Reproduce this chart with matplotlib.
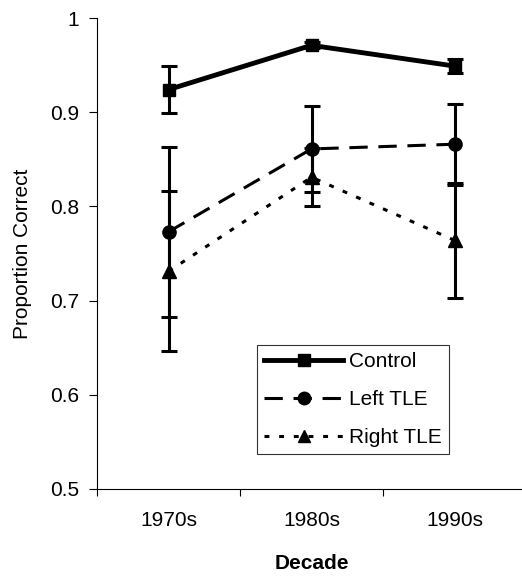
import numpy as np
import matplotlib.pyplot as plt
from matplotlib.lines import Line2D

plt.rcParams['font.family'] = ['Liberation Sans', 'DejaVu Sans']

decades = ['1970s', '1980s', '1990s']
control = [0.924, 0.971, 0.949]
control_err = [0.025, 0.003, 0.007]
left_tle = [0.773, 0.861, 0.866]
left_err = [0.090, 0.046, 0.043]
right_tle = [0.731, 0.831, 0.764]
right_err = [0.085, 0.031, 0.061]

x = np.arange(1, len(decades) + 1)

fig = plt.figure(figsize=(5.22, 5.76), dpi=100)
ax = fig.add_axes([97 / 522, 1 - 489 / 576, (526 - 97) / 522, 471 / 576])

# error bars drawn with the lines
ebkw = dict(ecolor='black', elinewidth=2.2, capsize=6, capthick=2.2)
dash_left = (0, (6, 3.5))
dot_right = (0, (1.6, 3.2))
ax.errorbar(x, control, yerr=control_err, color='black', lw=3.5, marker='s',
            ms=8.5, **ebkw)
ax.errorbar(x, left_tle, yerr=left_err, color='black', lw=2.2, ls=dash_left,
            marker='o', ms=9.5, **ebkw)
ax.errorbar(x, right_tle, yerr=right_err, color='black', lw=2.2, ls=dot_right,
            marker='^', ms=10, **ebkw)

ax.set_xlim(0.5, 3.5)
ax.set_ylim(0.5, 1.0)
ax.set_yticks([0.5, 0.6, 0.7, 0.8, 0.9, 1.0])
ax.set_yticklabels(['0.5', '0.6', '0.7', '0.8', '0.9', '1'])
ax.set_xticks(x)
ax.set_xticklabels(decades)
# ticks sit between the categories
ax.set_xticks([0.5, 1.5, 2.5, 3.5], minor=True)
ax.tick_params(axis='x', which='major', length=0, pad=16, labelsize=15)
ax.tick_params(axis='x', which='minor', length=5, direction='out', width=0.8)
ax.tick_params(axis='y', length=6, direction='out', width=0.8, labelsize=15, pad=7)
for s in ['top', 'right']:
    ax.spines[s].set_visible(False)
for s in ['left', 'bottom']:
    ax.spines[s].set_linewidth(0.8)

ax.set_ylabel('Proportion Correct', fontsize=15, labelpad=13)
ax.set_xlabel('Decade', fontsize=15, fontweight='bold', labelpad=17)

handles = [
    Line2D([], [], color='black', lw=3.5, marker='s', ms=8),
    Line2D([], [], color='black', lw=2.2, ls=dash_left, marker='o', ms=9),
    Line2D([], [], color='black', lw=2.2, ls=dot_right, marker='^', ms=9),
]
labels = ['Control', 'Left TLE', 'Right TLE']
leg = ax.legend(handles, labels, loc='lower left', bbox_to_anchor=(0.373, 0.074),
                fontsize=15, frameon=True, fancybox=False, edgecolor='black',
                handlelength=3.8, handletextpad=0.25, borderpad=0.35,
                labelspacing=0.9, borderaxespad=0)
leg.get_frame().set_linewidth(0.8)

fig.savefig('out.png', dpi=100)
